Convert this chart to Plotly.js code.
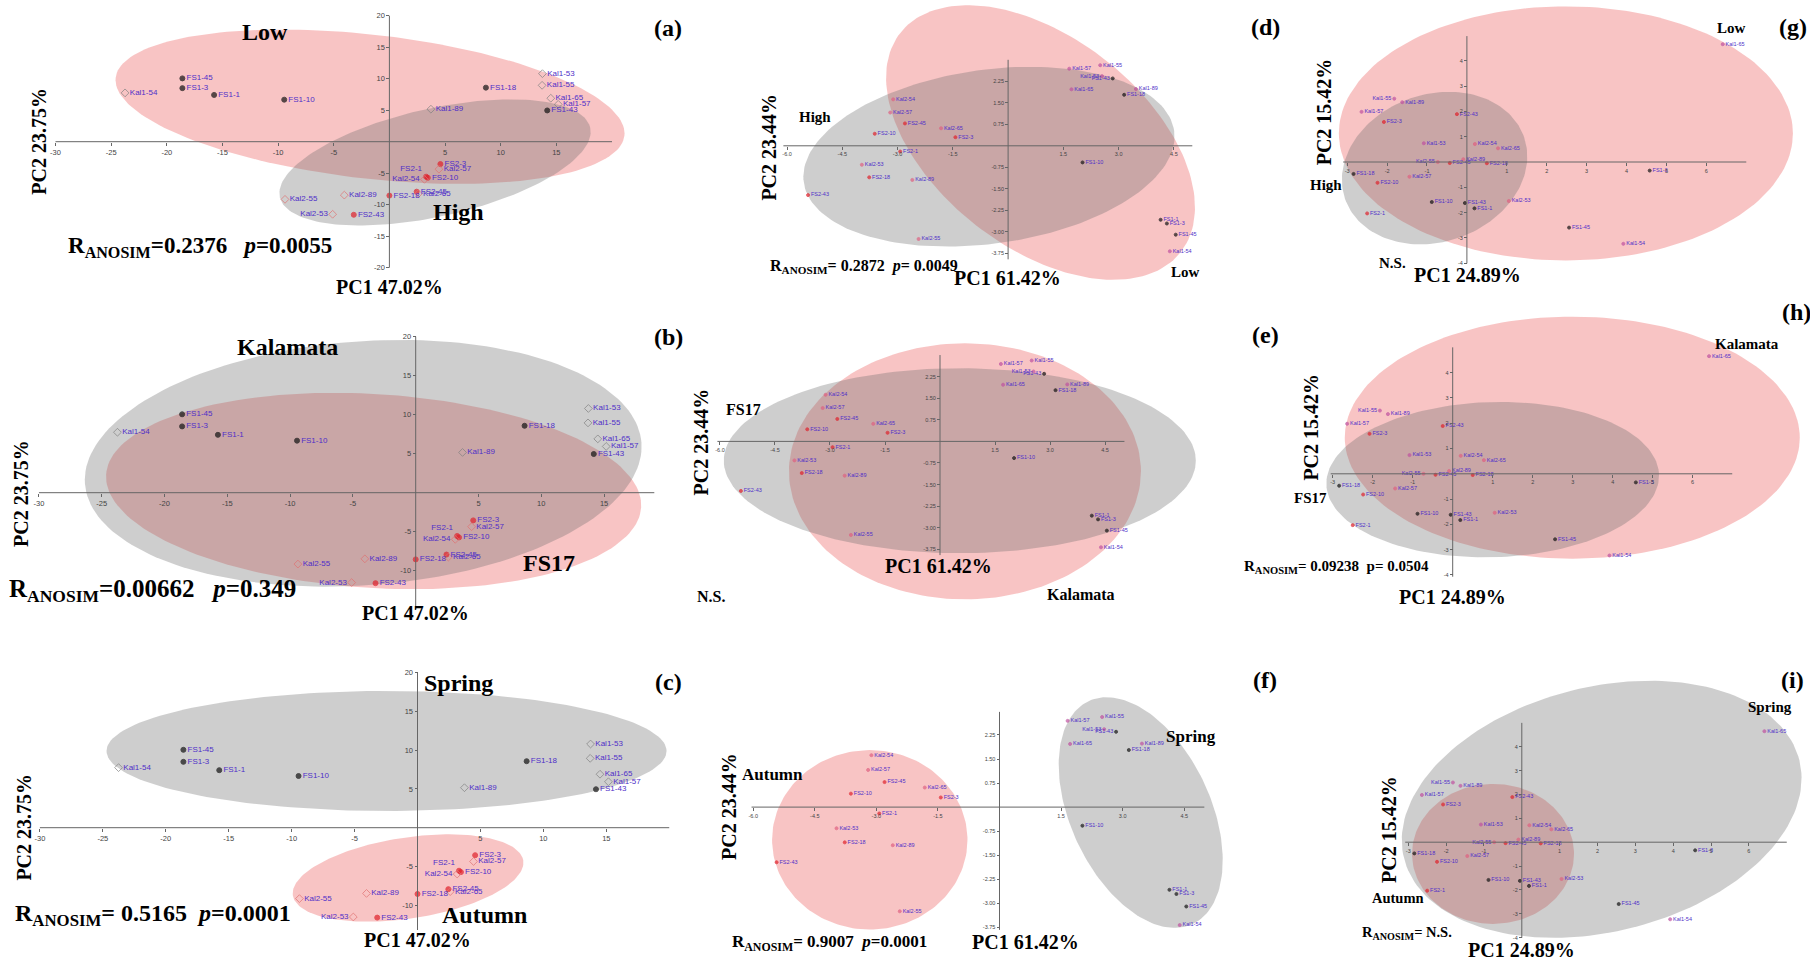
<!DOCTYPE html>
<html><head><meta charset="utf-8">
<script src="https://cdn.plot.ly/plotly-3.0.1.min.js"></script>
<style>html,body{margin:0;padding:0;background:#fff}#chart{width:1810px;height:961px}</style>
</head><body><div id="chart"></div>
<script>
// ================= DATA =================
// Left column (a,b,c): PCA, PC1 47.02 %, PC2 23.75 %
const leftNames = ['FS1-45','FS1-3','Kal1-54','FS1-1','FS1-10','FS1-18','Kal1-53','Kal1-55','Kal1-65','Kal1-57','FS1-43','Kal1-89','FS2-3','Kal2-57','FS2-1','FS2-10','Kal2-54','FS2-45','Kal2-65','FS2-18','Kal2-89','Kal2-55','Kal2-53','FS2-43'];
const leftPC1 = [-18.6,-18.6,-23.75,-15.75,-9.45,8.67,13.75,13.72,14.5,15.17,14.18,3.73,4.58,4.45,3.3,3.45,3.15,2.45,2.6,0.0,-4.05,-9.38,-5.1,-3.2];
const leftPC2 = [10.05,8.5,7.75,7.42,6.67,8.58,10.8,8.95,6.9,5.93,4.96,5.16,-3.55,-4.36,-5.55,-5.73,-5.98,-7.93,-8.25,-8.55,-8.48,-9.15,-11.52,-11.6];
const leftLabelLeft = ['FS2-1','Kal2-54','Kal2-53'];

// Middle column (d,e,f): PCA, PC1 61.42 %, PC2 23.44 %
const midNames = ['Kal1-55','Kal1-57','Kal1-53','FS1-43','Kal1-65','Kal1-89','FS1-18','FS1-10','FS1-1','FS1-3','FS1-45','Kal1-54','Kal2-54','Kal2-57','FS2-45','Kal2-65','FS2-3','FS2-10','FS2-1','Kal2-53','FS2-18','Kal2-89','FS2-43','Kal2-55'];
const midPC1 = [2.50,1.66,2.55,2.84,1.72,3.47,3.15,2.02,4.14,4.31,4.55,4.39,-3.12,-3.2,-2.8,-1.82,-1.43,-3.62,-2.93,-3.97,-3.77,-2.6,-5.43,-2.43];
const midPC2 = [2.81,2.69,2.43,2.35,1.97,1.98,1.78,-0.58,-2.58,-2.71,-3.10,-3.68,1.62,1.16,0.78,0.61,0.30,0.42,-0.20,-0.66,-1.10,-1.19,-1.72,-3.25];
const midLabelLeft = ['Kal1-53','FS1-43'];

// Right column (g,h,i): PCA, PC1 24.89 %, PC2 15.42 %
const rightNames = ['Kal1-65','Kal1-55','Kal1-89','Kal1-57','FS2-3','FS2-43','Kal1-53','Kal2-54','Kal2-65','Kal2-55','Kal2-89','FS2-45','FS2-18','FS1-18','FS2-10','Kal2-57','FS1-3','FS1-10','FS1-43','FS1-1','Kal2-53','FS2-1','FS1-45','Kal1-54'];
const rightPC1 = [6.41,-1.82,-1.62,-2.64,-2.08,-0.25,-1.08,0.2,0.78,-0.73,-0.09,-0.43,0.5,-2.84,-2.24,-1.44,4.58,-0.88,-0.05,0.19,1.05,-2.5,2.56,3.92];
const rightPC2 = [4.65,2.5,2.36,1.98,1.58,1.89,0.74,0.71,0.54,0.0,0.11,-0.04,-0.05,-0.47,-0.82,-0.58,-0.34,-1.58,-1.62,-1.83,-1.54,-2.03,-2.59,-3.23];
const rightLabelLeft = ['Kal1-55','Kal2-55'];

// tick labels
const leftXTicks = [-30,-25,-20,-15,-10,-5,5,10,15];
const midXTicks = [-6.0,-4.5,-3.0,-1.5,1.5,3.0,4.5];
const midXTickText = ['-6.0','-4.5','-3.0','-1.5','1.5','3.0','4.5'];
const midYTicks = [2.25,1.5,0.75,-0.75,-1.5,-2.25,-3.0,-3.75];
const midYTickText = ['2.25','1.50','0.75','-0.75','-1.50','-2.25','-3.00','-3.75'];
const rightXTicks = [-3,-2,-1,1,2,3,4,5,6];
const rightYTicks = [4,3,2,1,-1,-2,-3,-4];

// axis titles and statistics
const pcLeft = ['PC1 47.02%','PC2 23.75%'];
const pcMid = ['PC1 61.42%','PC2 23.44%'];
const pcRight = ['PC1 24.89%','PC2 15.42%'];
const anosim = {
  a:'R<sub>ANOSIM</sub>=0.2376\u00a0\u00a0\u00a0<i>p</i>=0.0055',
  b:'R<sub>ANOSIM</sub>=0.00662\u00a0\u00a0\u00a0<i>p</i>=0.349',
  c:'R<sub>ANOSIM</sub>= 0.5165\u00a0\u00a0<i>p</i>=0.0001',
  d:'R<sub>ANOSIM</sub>= 0.2872\u00a0\u00a0<i>p</i>= 0.0049',
  f:'R<sub>ANOSIM</sub>= 0.9007\u00a0\u00a0<i>p</i>=0.0001',
  h:'R<sub>ANOSIM</sub>= 0.09238\u00a0\u00a0p= 0.0504',
  i:'R<sub>ANOSIM</sub>= N.S.'
};

// ================= LAYOUT CONFIG =================
const W = 1810, H = 961;
const SERIF = 'Liberation Serif, Times New Roman, serif';
const SANS = 'Liberation Sans, Arial, sans-serif';
const PINK = 'rgba(235,75,75,0.33)';
const GRAY = 'rgba(105,105,105,0.33)';

const panels = [
 {id:'a', col:'L', x0:389.4, sx:11.13, y0:141.7, sy:6.3, box:[0,690,0,315], xl:[-30,20], yl:[-20,20], yt:[20,15,10,5,-5,-10,-15,-20],
  ell:[{c:[-1.74,5.56],ab:[256,72],rot:6.5,f:PINK},{c:[4.10,-3.30],ab:[159,54],rot:-12.6,f:GRAY}],
  groups:[['Low',264.5,31.7,24],['High',458.8,211.7,24]], letter:[668,28], pc1:[389.5,286.7], pc2:[39,141.7], r:[66,246.7,23]},
 {id:'b', col:'L', x0:415.7, sx:12.558, y0:492.7, sy:7.8, box:[0,690,315,640], xl:[-30,19], yl:[-15,20], yt:[20,15,10,5,-5,-10],
  ell:[{c:[-3.35,0.22],ab:[268,97],rot:3.5,f:PINK},{c:[-4.18,3.77],ab:[279,122],rot:-4.2,f:GRAY}],
  groups:[['Kalamata',287,347.3,24],['FS17',548.6,563.3,24]], letter:[668,337], pc1:[415.5,613.3], pc2:[21.7,493.3], r:[6.5,590,25]},
 {id:'c', col:'L', x0:417.5, sx:12.587, y0:827.7, sy:7.75, box:[0,690,640,961], xl:[-30,20], yl:[-13.2,20], yt:[20,15,10,5,-5,-10],
  ell:[{c:[-0.75,-6.49],ab:[116.5,40.5],rot:-8.6,f:PINK},{c:[-2.46,9.9],ab:[280,60],rot:0,f:GRAY}],
  groups:[['Spring',458.8,683.3,24],['Autumn',484.9,915,24]], letter:[668,682], pc1:[417.2,940], pc2:[23.9,826.7], r:[13,915,24]},
 {id:'d', col:'M', x0:1008.1, sx:36.84, y0:145.8, sy:28.67, box:[690,1240,0,315], xl:[-6.1,5.0], yl:[-3.96,3.0],
  ell:[{c:[0.88,0.115],ab:[178,105],rot:38,f:PINK},{c:[-0.52,-0.38],ab:[187,87],rot:-7.9,f:GRAY}],
  groups:[['High',815,116.7,15],['Low',1185.3,271.7,15]], letter:[1265,27], pc1:[1007.8,278.3], pc2:[768.9,146.7], r:[767.5,266.7,16]},
 {id:'e', col:'M', x0:940, sx:36.67, y0:441.4, sy:28.78, box:[690,1240,315,640], xl:[-6.07,5.03], yl:[-3.95,3.0],
  ell:[{c:[0.68,-1.04],ab:[176,128],rot:0,f:PINK},{c:[0.54,-0.67],ab:[236,92.5],rot:0,f:GRAY}],
  groups:[['FS17',743.6,409.3,16],['Kalamata',1080.7,594,16],['N.S.',711.4,596.7,16]], letter:[1265,335], pc1:[938.9,566], pc2:[700.7,441.7], r:null},
 {id:'f', col:'M', x0:999.5, sx:41.05, y0:807.1, sy:32.06, box:[690,1240,640,961], xl:[-6.04,4.99], yl:[-3.83,2.97],
  ell:[{c:[-3.16,-1.02],ab:[97.7,89.7],rot:0,f:PINK},{c:[3.44,-0.17],ab:[123,70],rot:65,f:GRAY}],
  groups:[['Autumn',772.1,774.3,17],['Spring',1191.4,736.7,17]], letter:[1265,680], pc1:[1025.7,941.7], pc2:[728.2,806.7], r:[730,943.3,17]},
 {id:'g', col:'R', x0:1466.9, sx:39.91, y0:162, sy:25.33, box:[1240,1810,0,312], xl:[-3.1,7.0], yl:[-4,4.97],
  ell:[{c:[2.48,1.13],ab:[227,127],rot:0,f:PINK},{c:[-0.81,-0.24],ab:[94.7,73.8],rot:-19,f:GRAY}],
  groups:[['Low',1731.5,28.3,15],['High',1326.2,185,15],['N.S.',1392.7,263.3,15]], letter:[1793,27], pc1:[1467.2,275], pc2:[1323.6,111.7], r:null},
 {id:'h', col:'R', x0:1452.7, sx:39.99, y0:473.8, sy:25.29, box:[1240,1810,312,640], xl:[-3.05,6.99], yl:[-4.07,5.0],
  ell:[{c:[2.99,1.43],ab:[227.5,121],rot:0,f:PINK},{c:[1.0,-0.23],ab:[166.4,77.6],rot:-1.7,f:GRAY}],
  groups:[['Kalamata',1747,344,15],['FS17',1310.9,498.3,15]], letter:[1796,312], pc1:[1452.7,596.7], pc2:[1310.9,426.7], r:[1241.8,566.7,15]},
 {id:'i', col:'R', x0:1521.8, sx:37.85, y0:842.2, sy:23.87, box:[1240,1810,640,961], xl:[-3.08,7.0], yl:[-4,5.0],
  ell:[{c:[-0.76,-0.49],ab:[81,70],rot:0,f:PINK},{c:[2.11,1.38],ab:[203.7,122.4],rot:-13.9,f:GRAY}],
  groups:[['Spring',1770,706.7,15],['Autumn',1398.1,897.7,14.5]], letter:[1792,680], pc1:[1521.7,950], pc2:[1389,830], r:[1360,933.3,14.5]}
];

const colData = {
  L:{names:leftNames, x:leftPC1, y:leftPC2, left:leftLabelLeft, pc:pcLeft, xt:leftXTicks, xtt:leftXTicks.map(String), tf:7.5, lf:8, ms:[5,6]},
  M:{names:midNames, x:midPC1, y:midPC2, left:midLabelLeft, pc:pcMid, xt:midXTicks, xtt:midXTickText, yt:midYTicks, ytt:midYTickText, tf:5.5, lf:5.5, ms:[3,3]},
  R:{names:rightNames, x:rightPC1, y:rightPC2, left:rightLabelLeft, pc:pcRight, xt:rightXTicks, xtt:rightXTicks.map(String), yt:rightYTicks, ytt:rightYTicks.map(String), tf:5.5, lf:5.5, ms:[3,3]}
};

function markerFor(name, ms, small){
  if (name.startsWith('FS1')) return {sym:'circle', c:'#111', s:ms[0]};
  if (name.startsWith('FS2')) return {sym:'circle', c:'#e0202a', s:ms[0]};
  if (name.startsWith('Kal1')) return {sym: small ? 'circle' : 'diamond-open', c: small ? '#c050a0' : '#808080', s:ms[1]};
  return {sym: small ? 'circle' : 'diamond-open', c: small ? '#e06080' : '#e07070', s:ms[1]};
}

const traces = [], shapes = [], annotations = [];
const layout = {width:W, height:H, margin:{l:0,r:0,t:0,b:0}, paper_bgcolor:'#ffffff', plot_bgcolor:'rgba(0,0,0,0)', showlegend:false};

function ann(px, py, text, size, opts){
  return Object.assign({xref:'paper', yref:'paper', x:px/W, y:1-py/H, text:text, showarrow:false,
    xanchor:'center', yanchor:'middle', font:{family:SERIF, size:size, color:'#000'}}, opts||{});
}

panels.forEach((p, k) => {
  const n = k + 1;
  const xid = n === 1 ? 'x' : 'x' + n, yid = n === 1 ? 'y' : 'y' + n;
  const xkey = n === 1 ? 'xaxis' : 'xaxis' + n, ykey = n === 1 ? 'yaxis' : 'yaxis' + n;
  const cd = colData[p.col];
  const small = p.col !== 'L';
  const xr = [(p.box[0]-p.x0)/p.sx, (p.box[1]-p.x0)/p.sx];
  const yr = [(p.y0-p.box[3])/p.sy, (p.y0-p.box[2])/p.sy];
  const yt = p.yt || cd.yt;
  const ytt = p.yt ? p.yt.map(String) : cd.ytt;
  const common = {showgrid:false, zeroline:false, showline:false, ticks:'outside', ticklen:3, tickwidth:1,
    tickcolor:'#666', tickfont:{family:SANS, size:cd.tf, color:'#444'}, tickmode:'array', anchor:'free', automargin:false, fixedrange:true};
  layout[xkey] = Object.assign({}, common, {domain:[p.box[0]/W, p.box[1]/W], range:xr, position:1-p.y0/H,
    tickvals:cd.xt, ticktext:cd.xtt});
  layout[ykey] = Object.assign({}, common, {domain:[1-p.box[3]/H, 1-p.box[2]/H], range:yr, position:p.x0/W,
    tickvals:yt, ticktext:ytt});

  // ellipses
  p.ell.forEach(e => {
    const th = e.rot*Math.PI/180, ex = [], ey = [];
    for (let i = 0; i <= 180; i++) {
      const t = i/180*2*Math.PI;
      const u = e.ab[0]*Math.cos(t), v = e.ab[1]*Math.sin(t);
      const dx = u*Math.cos(th) - v*Math.sin(th);
      const dy = u*Math.sin(th) + v*Math.cos(th);
      ex.push(e.c[0] + dx/p.sx); ey.push(e.c[1] - dy/p.sy);
    }
    traces.push({type:'scatter', mode:'lines', x:ex, y:ey, xaxis:xid, yaxis:yid, fill:'toself',
      fillcolor:e.f, line:{width:0, color:'rgba(0,0,0,0)'}, hoverinfo:'skip'});
  });

  // axis lines
  shapes.push({type:'line', xref:xid, yref:yid, x0:p.xl[0], x1:p.xl[1], y0:0, y1:0, line:{color:'#666', width:1}});
  shapes.push({type:'line', xref:xid, yref:yid, x0:0, x1:0, y0:p.yl[0], y1:p.yl[1], line:{color:'#666', width:1}});

  // samples
  const ms = cd.names.map(nm => markerFor(nm, cd.ms, small));
  traces.push({type:'scatter', mode:'markers+text', x:cd.x, y:cd.y, xaxis:xid, yaxis:yid, text:cd.names,
    textposition:cd.names.map(nm => cd.left.includes(nm) ? (nm==='FS2-1' && !small ? 'top left' : 'middle left') : 'middle right'),
    textfont:{family:SANS, size:cd.lf, color:'#4f2fc8'},
    marker:{symbol:ms.map(m=>m.sym), color:ms.map(m=>m.c), size:ms.map(m=>m.s), line:{width:1, color:ms.map(m=>m.c)}},
    hoverinfo:'skip', cliponaxis:false});

  // annotations
  p.groups.forEach(g => annotations.push(ann(g[1], g[2], '<b>'+g[0]+'</b>', g[3])));
  annotations.push(ann(p.letter[0], p.letter[1], '<b>('+p.id+')</b>', 24));
  annotations.push(ann(p.pc1[0], p.pc1[1], '<b>'+cd.pc[0]+'</b>', 20));
  annotations.push(ann(p.pc2[0], p.pc2[1], '<b>'+cd.pc[1]+'</b>', 20, {textangle:-90}));
  if (p.r) annotations.push(ann(p.r[0], p.r[1], '<b>'+anosim[p.id]+'</b>', p.r[2], {xanchor:'left'}));
});

layout.shapes = shapes;
layout.annotations = annotations;
Plotly.newPlot('chart', traces, layout, {staticPlot:true, displayModeBar:false});
</script>
</body></html>
